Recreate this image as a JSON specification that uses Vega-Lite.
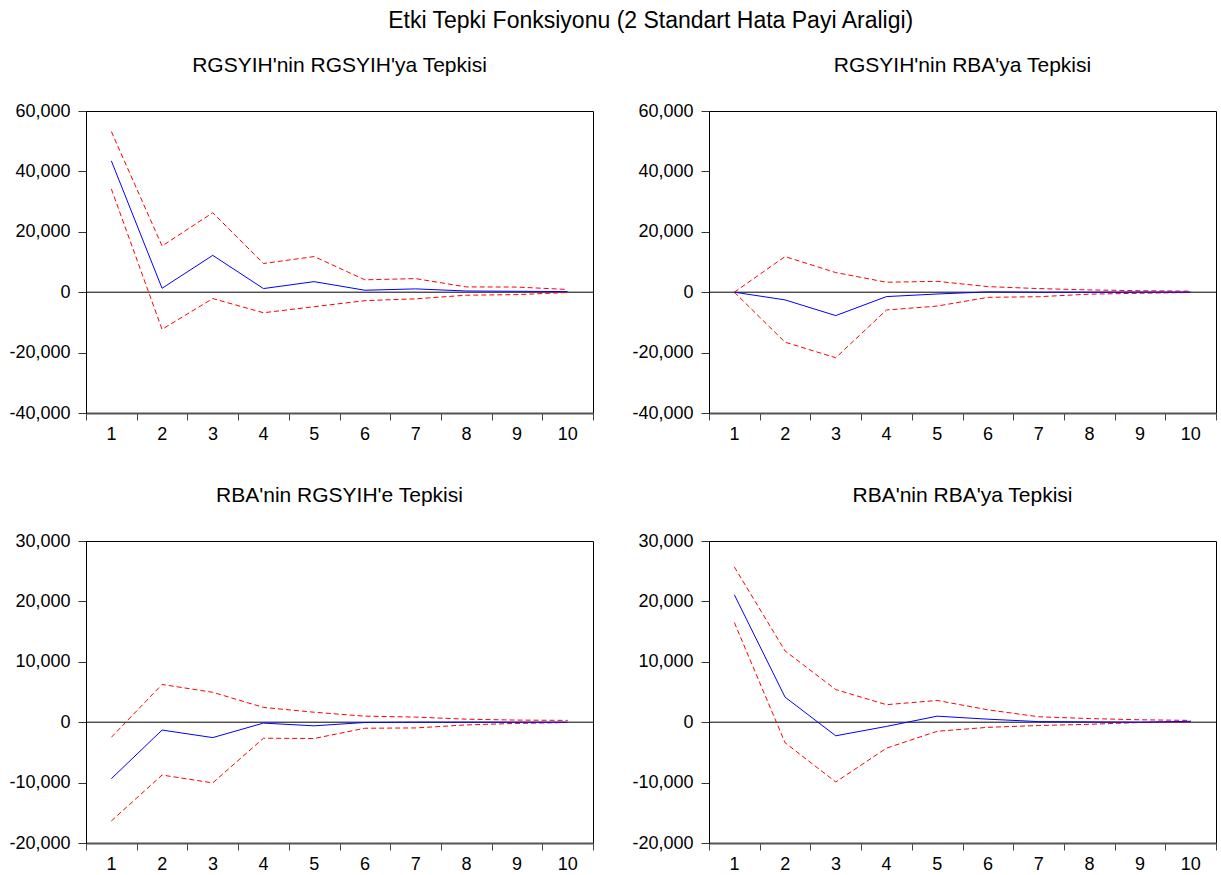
{
  "$schema": "https://vega.github.io/schema/vega-lite/v6.json",
  "autosize": "none",
  "padding": {"left": 86, "top": 111, "right": 1135, "bottom": 764},
  "background": "white",
  "title": {
    "text": "Etki Tepki Fonksiyonu (2 Standart Hata Payi Araligi)",
    "font": "Liberation Sans",
    "fontSize": 23,
    "fontWeight": "normal",
    "color": "black",
    "anchor": "middle",
    "baseline": "alphabetic",
    "offset": 4,
    "dx": 38
  },
  "config": {
    "font": "Liberation Sans",
    "view": {"stroke": "black", "strokeWidth": 1},
    "title": {"font": "Liberation Sans", "fontSize": 21, "fontWeight": "normal", "color": "black", "baseline": "alphabetic", "offset": 26},
    "axis": {"grid": false, "title": null, "labelFont": "Liberation Sans", "labelFontSize": 18, "labelColor": "black", "labelFlush": false},
    "axisY": {"domainColor": "black", "domainWidth": 1, "tickColor": "#333", "tickSize": 8, "labelPadding": 8},
    "axisX": {"domainColor": "#555", "domainWidth": 2, "tickColor": "#444", "tickSize": 7, "labelPadding": 5}
  },
  "datasets": {
    "a": [
      {"step": 1, "resp": 43500, "lo": 34200, "hi": 53200},
      {"step": 2, "resp": 1300, "lo": -12300, "hi": 15300},
      {"step": 3, "resp": 12200, "lo": -2100, "hi": 26300},
      {"step": 4, "resp": 1200, "lo": -6800, "hi": 9500},
      {"step": 5, "resp": 3500, "lo": -4800, "hi": 11800},
      {"step": 6, "resp": 650, "lo": -2800, "hi": 4100},
      {"step": 7, "resp": 1100, "lo": -2200, "hi": 4500},
      {"step": 8, "resp": 400, "lo": -1000, "hi": 1750},
      {"step": 9, "resp": 300, "lo": -800, "hi": 1700},
      {"step": 10, "resp": 200, "lo": -100, "hi": 900}
    ],
    "b": [
      {"step": 1, "resp": 0, "lo": 0, "hi": 0},
      {"step": 2, "resp": -2550, "lo": -16550, "hi": 11800},
      {"step": 3, "resp": -7750, "lo": -21700, "hi": 6500},
      {"step": 4, "resp": -1450, "lo": -5900, "hi": 3300},
      {"step": 5, "resp": -600, "lo": -4600, "hi": 3600},
      {"step": 6, "resp": 100, "lo": -1700, "hi": 1850},
      {"step": 7, "resp": 0, "lo": -1500, "hi": 1200},
      {"step": 8, "resp": 0, "lo": -650, "hi": 750},
      {"step": 9, "resp": 50, "lo": -350, "hi": 500},
      {"step": 10, "resp": 50, "lo": -100, "hi": 330}
    ],
    "c": [
      {"step": 1, "resp": -9350, "lo": -16350, "hi": -2500},
      {"step": 2, "resp": -1300, "lo": -8750, "hi": 6250},
      {"step": 3, "resp": -2550, "lo": -10050, "hi": 4950},
      {"step": 4, "resp": -150, "lo": -2650, "hi": 2450},
      {"step": 5, "resp": -600, "lo": -2700, "hi": 1650},
      {"step": 6, "resp": -50, "lo": -1000, "hi": 1000},
      {"step": 7, "resp": 0, "lo": -950, "hi": 850},
      {"step": 8, "resp": 0, "lo": -450, "hi": 500},
      {"step": 9, "resp": 0, "lo": -200, "hi": 350},
      {"step": 10, "resp": 0, "lo": -50, "hi": 300}
    ],
    "d": [
      {"step": 1, "resp": 21100, "lo": 16500, "hi": 25700},
      {"step": 2, "resp": 4150, "lo": -3400, "hi": 11800},
      {"step": 3, "resp": -2250, "lo": -9900, "hi": 5400},
      {"step": 4, "resp": -700, "lo": -4300, "hi": 2900},
      {"step": 5, "resp": 1000, "lo": -1500, "hi": 3600},
      {"step": 6, "resp": 500, "lo": -850, "hi": 2050},
      {"step": 7, "resp": 100, "lo": -550, "hi": 900},
      {"step": 8, "resp": 50, "lo": -350, "hi": 600},
      {"step": 9, "resp": 0, "lo": -50, "hi": 400},
      {"step": 10, "resp": 150, "lo": 100, "hi": 300}
    ]
  },
  "bounds": "flush",
  "columns": 2,
  "spacing": {"row": 128, "column": 116},
  "concat": [
    {
      "width": 507, "height": 302,
      "title": "RGSYIH'nin RGSYIH'ya Tepkisi",
      "data": {"name": "a"},
      "layer": [
        {"data": {"values": [{}]}, "mark": {"type": "rule", "color": "black", "strokeWidth": 1}, "encoding": {"y": {"datum": 0, "type": "quantitative"}}},
        {"mark": {"type": "line", "color": "#ff0000", "strokeWidth": 1, "strokeDash": [5, 3]}, "encoding": {"x": {"field": "step", "type": "quantitative", "scale": {"domain": [0.5, 10.5], "nice": false, "zero": false}, "axis": {"values": [0.5, 1.5, 2.5, 3.5, 4.5, 5.5, 6.5, 7.5, 8.5, 9.5, 10.5], "labelExpr": "datum.value < 10 ? format(datum.value + 0.5, 'd') : ''", "labelOffset": 25}}, "y": {"field": "hi", "type": "quantitative", "scale": {"domain": [-40000, 60000], "nice": false}, "axis": {"values": [-40000, -20000, 0, 20000, 40000, 60000], "labelExpr": "replace(format(datum.value, ','), '\u2212', '-')"}}}},
        {"mark": {"type": "line", "color": "#ff0000", "strokeWidth": 1, "strokeDash": [5, 3]}, "encoding": {"x": {"field": "step", "type": "quantitative"}, "y": {"field": "lo", "type": "quantitative"}}},
        {"mark": {"type": "line", "color": "#0000ff", "strokeWidth": 1}, "encoding": {"x": {"field": "step", "type": "quantitative"}, "y": {"field": "resp", "type": "quantitative"}}}
      ]
    },
    {
      "width": 507, "height": 302,
      "title": "RGSYIH'nin RBA'ya Tepkisi",
      "data": {"name": "b"},
      "layer": [
        {"data": {"values": [{}]}, "mark": {"type": "rule", "color": "black", "strokeWidth": 1}, "encoding": {"y": {"datum": 0, "type": "quantitative"}}},
        {"mark": {"type": "line", "color": "#ff0000", "strokeWidth": 1, "strokeDash": [5, 3]}, "encoding": {"x": {"field": "step", "type": "quantitative", "scale": {"domain": [0.5, 10.5], "nice": false, "zero": false}, "axis": {"values": [0.5, 1.5, 2.5, 3.5, 4.5, 5.5, 6.5, 7.5, 8.5, 9.5, 10.5], "labelExpr": "datum.value < 10 ? format(datum.value + 0.5, 'd') : ''", "labelOffset": 25}}, "y": {"field": "hi", "type": "quantitative", "scale": {"domain": [-40000, 60000], "nice": false}, "axis": {"values": [-40000, -20000, 0, 20000, 40000, 60000], "labelExpr": "replace(format(datum.value, ','), '\u2212', '-')"}}}},
        {"mark": {"type": "line", "color": "#ff0000", "strokeWidth": 1, "strokeDash": [5, 3]}, "encoding": {"x": {"field": "step", "type": "quantitative"}, "y": {"field": "lo", "type": "quantitative"}}},
        {"mark": {"type": "line", "color": "#0000ff", "strokeWidth": 1}, "encoding": {"x": {"field": "step", "type": "quantitative"}, "y": {"field": "resp", "type": "quantitative"}}}
      ]
    },
    {
      "width": 507, "height": 302,
      "title": "RBA'nin RGSYIH'e Tepkisi",
      "data": {"name": "c"},
      "layer": [
        {"data": {"values": [{}]}, "mark": {"type": "rule", "color": "black", "strokeWidth": 1}, "encoding": {"y": {"datum": 0, "type": "quantitative"}}},
        {"mark": {"type": "line", "color": "#ff0000", "strokeWidth": 1, "strokeDash": [5, 3]}, "encoding": {"x": {"field": "step", "type": "quantitative", "scale": {"domain": [0.5, 10.5], "nice": false, "zero": false}, "axis": {"values": [0.5, 1.5, 2.5, 3.5, 4.5, 5.5, 6.5, 7.5, 8.5, 9.5, 10.5], "labelExpr": "datum.value < 10 ? format(datum.value + 0.5, 'd') : ''", "labelOffset": 25}}, "y": {"field": "hi", "type": "quantitative", "scale": {"domain": [-20000, 30000], "nice": false}, "axis": {"values": [-20000, -10000, 0, 10000, 20000, 30000], "labelExpr": "replace(format(datum.value, ','), '\u2212', '-')"}}}},
        {"mark": {"type": "line", "color": "#ff0000", "strokeWidth": 1, "strokeDash": [5, 3]}, "encoding": {"x": {"field": "step", "type": "quantitative"}, "y": {"field": "lo", "type": "quantitative"}}},
        {"mark": {"type": "line", "color": "#0000ff", "strokeWidth": 1}, "encoding": {"x": {"field": "step", "type": "quantitative"}, "y": {"field": "resp", "type": "quantitative"}}}
      ]
    },
    {
      "width": 507, "height": 302,
      "title": "RBA'nin RBA'ya Tepkisi",
      "data": {"name": "d"},
      "layer": [
        {"data": {"values": [{}]}, "mark": {"type": "rule", "color": "black", "strokeWidth": 1}, "encoding": {"y": {"datum": 0, "type": "quantitative"}}},
        {"mark": {"type": "line", "color": "#ff0000", "strokeWidth": 1, "strokeDash": [5, 3]}, "encoding": {"x": {"field": "step", "type": "quantitative", "scale": {"domain": [0.5, 10.5], "nice": false, "zero": false}, "axis": {"values": [0.5, 1.5, 2.5, 3.5, 4.5, 5.5, 6.5, 7.5, 8.5, 9.5, 10.5], "labelExpr": "datum.value < 10 ? format(datum.value + 0.5, 'd') : ''", "labelOffset": 25}}, "y": {"field": "hi", "type": "quantitative", "scale": {"domain": [-20000, 30000], "nice": false}, "axis": {"values": [-20000, -10000, 0, 10000, 20000, 30000], "labelExpr": "replace(format(datum.value, ','), '\u2212', '-')"}}}},
        {"mark": {"type": "line", "color": "#ff0000", "strokeWidth": 1, "strokeDash": [5, 3]}, "encoding": {"x": {"field": "step", "type": "quantitative"}, "y": {"field": "lo", "type": "quantitative"}}},
        {"mark": {"type": "line", "color": "#0000ff", "strokeWidth": 1}, "encoding": {"x": {"field": "step", "type": "quantitative"}, "y": {"field": "resp", "type": "quantitative"}}}
      ]
    }
  ]
}
